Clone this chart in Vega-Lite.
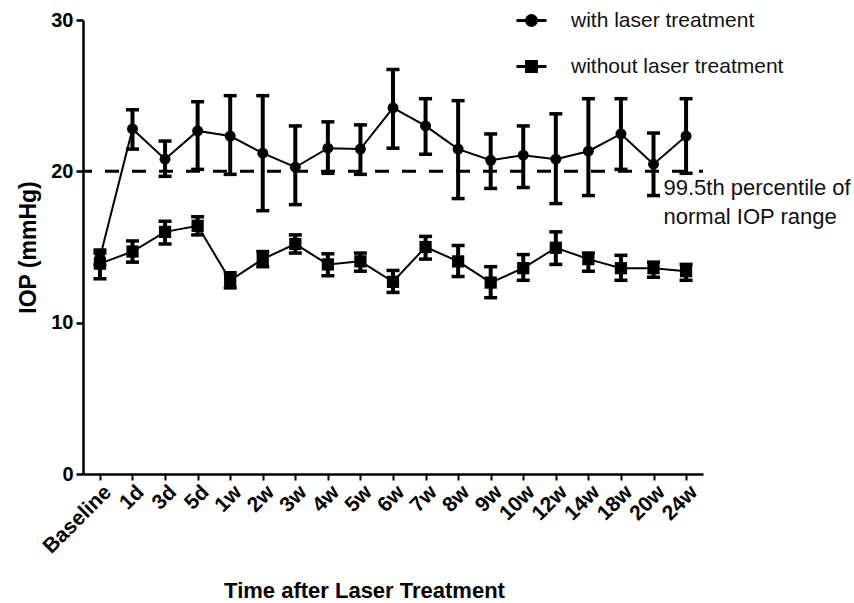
{
  "$schema": "https://vega.github.io/schema/vega-lite/v6.json",
  "width": 620,
  "height": 454,
  "autosize": {"type": "none"},
  "padding": {"left": 83, "top": 20, "right": 151, "bottom": 129},
  "background": "white",
  "config": {
    "view": {"stroke": null},
    "font": "Liberation Sans",
    "axis": {"domainColor": "black", "tickColor": "black", "labelColor": "black", "titleColor": "black", "grid": false}
  },
  "datasets": {
    "iop": [
      {"time": "Baseline", "series": "with laser treatment", "iop": 14.3, "lo": 13.8, "hi": 14.8},
      {"time": "1d", "series": "with laser treatment", "iop": 22.8, "lo": 21.47, "hi": 24.07},
      {"time": "3d", "series": "with laser treatment", "iop": 20.8, "lo": 19.67, "hi": 22.0},
      {"time": "5d", "series": "with laser treatment", "iop": 22.67, "lo": 20.13, "hi": 24.6},
      {"time": "1w", "series": "with laser treatment", "iop": 22.33, "lo": 19.8, "hi": 25.0},
      {"time": "2w", "series": "with laser treatment", "iop": 21.2, "lo": 17.4, "hi": 25.0},
      {"time": "3w", "series": "with laser treatment", "iop": 20.27, "lo": 17.8, "hi": 23.0},
      {"time": "4w", "series": "with laser treatment", "iop": 21.53, "lo": 19.87, "hi": 23.27},
      {"time": "5w", "series": "with laser treatment", "iop": 21.47, "lo": 19.8, "hi": 23.07},
      {"time": "6w", "series": "with laser treatment", "iop": 24.2, "lo": 21.53, "hi": 26.73},
      {"time": "7w", "series": "with laser treatment", "iop": 23.0, "lo": 21.13, "hi": 24.8},
      {"time": "8w", "series": "with laser treatment", "iop": 21.47, "lo": 18.2, "hi": 24.67},
      {"time": "9w", "series": "with laser treatment", "iop": 20.73, "lo": 18.87, "hi": 22.47},
      {"time": "10w", "series": "with laser treatment", "iop": 21.07, "lo": 18.93, "hi": 23.0},
      {"time": "12w", "series": "with laser treatment", "iop": 20.8, "lo": 17.87, "hi": 23.8},
      {"time": "14w", "series": "with laser treatment", "iop": 21.33, "lo": 18.4, "hi": 24.8},
      {"time": "18w", "series": "with laser treatment", "iop": 22.47, "lo": 20.13, "hi": 24.8},
      {"time": "20w", "series": "with laser treatment", "iop": 20.47, "lo": 18.4, "hi": 22.53},
      {"time": "24w", "series": "with laser treatment", "iop": 22.33, "lo": 19.87, "hi": 24.8},
      {"time": "Baseline", "series": "without laser treatment", "iop": 13.9, "lo": 12.9, "hi": 14.6},
      {"time": "1d", "series": "without laser treatment", "iop": 14.7, "lo": 14.0, "hi": 15.4},
      {"time": "3d", "series": "without laser treatment", "iop": 16.0, "lo": 15.2, "hi": 16.7},
      {"time": "5d", "series": "without laser treatment", "iop": 16.4, "lo": 15.8, "hi": 17.0},
      {"time": "1w", "series": "without laser treatment", "iop": 12.8, "lo": 12.3, "hi": 13.3},
      {"time": "2w", "series": "without laser treatment", "iop": 14.2, "lo": 13.7, "hi": 14.7},
      {"time": "3w", "series": "without laser treatment", "iop": 15.2, "lo": 14.6, "hi": 15.8},
      {"time": "4w", "series": "without laser treatment", "iop": 13.85, "lo": 13.1, "hi": 14.55},
      {"time": "5w", "series": "without laser treatment", "iop": 14.05, "lo": 13.4, "hi": 14.6},
      {"time": "6w", "series": "without laser treatment", "iop": 12.7, "lo": 12.0, "hi": 13.45},
      {"time": "7w", "series": "without laser treatment", "iop": 15.0, "lo": 14.2, "hi": 15.7},
      {"time": "8w", "series": "without laser treatment", "iop": 14.05, "lo": 13.05, "hi": 15.1},
      {"time": "9w", "series": "without laser treatment", "iop": 12.65, "lo": 11.65, "hi": 13.7},
      {"time": "10w", "series": "without laser treatment", "iop": 13.6, "lo": 12.8, "hi": 14.5},
      {"time": "12w", "series": "without laser treatment", "iop": 14.95, "lo": 13.85, "hi": 16.0},
      {"time": "14w", "series": "without laser treatment", "iop": 14.2, "lo": 13.4, "hi": 14.6},
      {"time": "18w", "series": "without laser treatment", "iop": 13.6, "lo": 12.8, "hi": 14.45},
      {"time": "20w", "series": "without laser treatment", "iop": 13.6, "lo": 13.0, "hi": 14.0},
      {"time": "24w", "series": "without laser treatment", "iop": 13.4, "lo": 12.8, "hi": 13.85}
    ],
    "ref": [{"iop": 20}],
    "notes": [
      {"time": "20w", "iop": 18.41, "label": "99.5th percentile of"},
      {"time": "20w", "iop": 16.49, "label": "normal IOP range"}
    ]
  },
  "layer": [
    {
      "data": {"name": "ref"},
      "mark": {"type": "rule", "color": "black", "strokeWidth": 3, "strokeDash": [14, 13], "strokeDashOffset": 10},
      "encoding": {
        "y": {"field": "iop", "type": "quantitative", "scale": {"domain": [0, 30], "nice": false, "zero": true}}
      }
    },
    {
      "data": {"name": "iop"},
      "mark": {"type": "rule", "color": "black", "strokeWidth": 4, "opacity": 1},
      "encoding": {
        "x": {
          "field": "time", "type": "ordinal",
          "scale": {"type": "point", "padding": 0.52, "domain": ["Baseline", "1d", "3d", "5d", "1w", "2w", "3w", "4w", "5w", "6w", "7w", "8w", "9w", "10w", "12w", "14w", "18w", "20w", "24w"]},
          "axis": {
            "title": "Time after Laser Treatment",
            "titleFontSize": 22, "titleFontWeight": "bold",
            "titleX": 281, "titleY": 123, "titleBaseline": "alphabetic", "titleAnchor": null,
            "labelAngle": -45, "labelFontSize": 21, "labelFontWeight": "bold", "labelPadding": 1,
            "tickSize": 6, "tickWidth": 2, "domainWidth": 2.5
          }
        },
        "y": {
          "field": "lo", "type": "quantitative",
          "axis": {
            "title": "IOP (mmHg)", "titleFontSize": 23, "titleFontWeight": "bold", "titlePadding": 10,
            "values": [0, 10, 20, 30], "labelFontSize": 20, "labelFontWeight": "bold", "labelPadding": 3,
            "tickSize": 7, "tickWidth": 2.5, "domainWidth": 2.5
          }
        },
        "y2": {"field": "hi"}
      }
    },
    {
      "data": {"name": "iop"},
      "mark": {"type": "tick", "color": "black", "size": 13, "thickness": 3.5, "opacity": 1},
      "encoding": {
        "x": {"field": "time", "type": "ordinal"},
        "y": {"field": "hi", "type": "quantitative"}
      }
    },
    {
      "data": {"name": "iop"},
      "mark": {"type": "tick", "color": "black", "size": 13, "thickness": 3.5, "opacity": 1},
      "encoding": {
        "x": {"field": "time", "type": "ordinal"},
        "y": {"field": "lo", "type": "quantitative"}
      }
    },
    {
      "data": {"name": "iop"},
      "mark": {"type": "line", "strokeWidth": 2},
      "encoding": {
        "x": {"field": "time", "type": "ordinal"},
        "y": {"field": "iop", "type": "quantitative"},
        "color": {
          "field": "series", "type": "nominal",
          "scale": {"domain": ["with laser treatment", "without laser treatment"], "range": ["black", "black"]},
          "legend": {
            "title": null, "orient": "none", "legendX": 432, "legendY": -16,
            "padding": 0, "symbolSize": 900, "labelOffset": 23, "rowPadding": 18, "labelLimit": 400,
            "labelFontSize": 21, "labelFont": "Liberation Sans", "labelColor": "#111",
            "symbolStrokeWidth": 3, "symbolOpacity": 1,
            "encode": {
              "symbols": {
                "update": {
                  "shape": {"signal": "datum.value === 'with laser treatment' ? 'M-1,0H1M-0.33,0A0.33,0.33 0 1,1 0.33,0A0.33,0.33 0 1,1 -0.33,0Z' : 'M-1,0H1M-0.33,-0.33H0.33V0.33H-0.33Z'"},
                  "fill": {"value": "black"},
                  "stroke": {"value": "black"},
                  "strokeWidth": {"value": 3},
                  "opacity": {"value": 1},
                  "size": {"value": 900}
                }
              }
            }
          }
        }
      }
    },
    {
      "data": {"name": "iop"},
      "transform": [{"filter": "datum.series === 'with laser treatment'"}],
      "mark": {"type": "point", "shape": "circle", "filled": true, "color": "black", "opacity": 1, "size": 120},
      "encoding": {
        "x": {"field": "time", "type": "ordinal"},
        "y": {"field": "iop", "type": "quantitative"}
      }
    },
    {
      "data": {"name": "iop"},
      "transform": [{"filter": "datum.series === 'without laser treatment'"}],
      "mark": {"type": "point", "shape": "square", "filled": true, "color": "black", "opacity": 1, "size": 150},
      "encoding": {
        "x": {"field": "time", "type": "ordinal"},
        "y": {"field": "iop", "type": "quantitative"}
      }
    },
    {
      "data": {"name": "notes"},
      "mark": {"type": "text", "align": "left", "baseline": "alphabetic", "dx": 10, "fontSize": 22, "font": "Liberation Sans", "color": "#111"},
      "encoding": {
        "x": {"field": "time", "type": "ordinal"},
        "y": {"field": "iop", "type": "quantitative"},
        "text": {"field": "label"}
      }
    }
  ]
}
